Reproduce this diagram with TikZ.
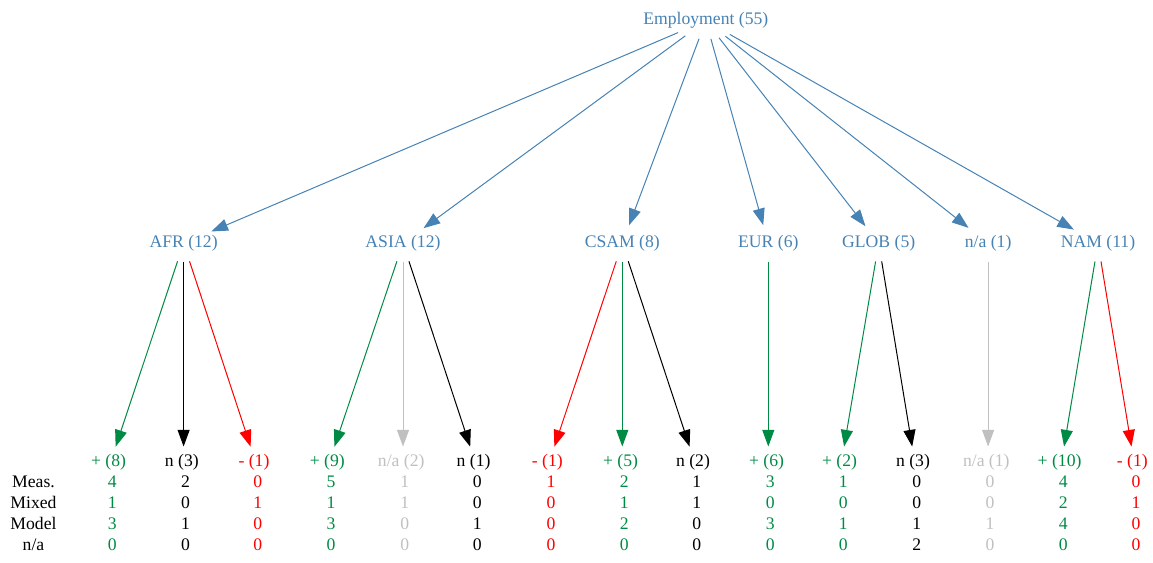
\documentclass[tikz,border=0pt]{standalone}
\usepackage{fontspec}
\setmainfont{Liberation Serif}
\usetikzlibrary{arrows.meta,shapes.geometric}
\definecolor{cblue}{HTML}{4682B4}
\definecolor{cgreen}{HTML}{008B45}
\definecolor{cgray}{HTML}{C0C0C0}
\definecolor{cred}{HTML}{FF0000}
\newcommand\hublabel[1]{\makebox[0pt]{#1}}
\newcommand\leaflabel[1]{\makebox[0pt]{#1\hspace{2.7pt}}}
\newcommand\valcol[7]{%
  \node[cell,text=#3] (#1-1) at (#2,487.6) {#4};
  \node[cell,text=#3] (#1-2) at (#2,508.5) {#5};
  \node[cell,text=#3] (#1-3) at (#2,529.4) {#6};
  \node[cell,text=#3] (#1-4) at (#2,550.3) {#7};}
\begin{document}
\begin{tikzpicture}[x=0.75pt,y=-0.75pt,
  font=\fontsize{13.24}{15}\selectfont,
  hub/.style={ellipse,inner sep=0pt,minimum width=54pt,minimum height=27pt,anchor=base,text=cblue},
  leaf/.style={ellipse,inner sep=0pt,minimum width=54pt,minimum height=23.5pt,anchor=base},
  cell/.style={inner sep=0pt,anchor=base},
  link/.style={line width=0.75pt,-{Triangle[length=12.5pt,width=9pt]}},
]
\useasboundingbox (0,0) rectangle (1153,563);

% root
\node[hub] (emp) at (705.8,25) {\hublabel{Employment (55)}};

% regions
\node[hub] (afr)  at (183.6,247.5) {\hublabel{AFR (12)}};
\node[hub] (asia) at (403,247.5)   {\hublabel{ASIA (12)}};
\node[hub] (csam) at (622.3,247.5) {\hublabel{CSAM (8)}};
\node[hub] (eur)  at (768.3,247.5) {\hublabel{EUR (6)}};
\node[hub] (glob) at (878.7,247.5) {\hublabel{GLOB (5)}};
\node[hub] (rna)  at (988.1,247.5) {\hublabel{n/a (1)}};
\node[hub] (nam)  at (1098,247.5)  {\hublabel{NAM (11)}};

\foreach \t in {afr,asia,csam,eur,glob,rna,nam}
  \draw[link,cblue] (emp) -- (\t);

% leaves
\node[leaf,text=cgreen] (afrp) at (110.4,466.7)  {\leaflabel{+ (8)}};
\node[leaf,text=black]  (afrn) at (183.6,466.7)  {\leaflabel{n (3)}};
\node[leaf,text=cred]   (afrm) at (255.8,466.7)  {\leaflabel{- (1)}};
\node[leaf,text=cgreen] (asiap) at (329.1,466.7) {\leaflabel{+ (9)}};
\node[leaf,text=cgray]  (asiax) at (403,466.7)   {\leaflabel{n/a (2)}};
\node[leaf,text=black]  (asian) at (475.4,466.7) {\leaflabel{n (1)}};
\node[leaf,text=cred]   (csamm) at (549.1,466.7) {\leaflabel{- (1)}};
\node[leaf,text=cgreen] (csamp) at (622.3,466.7) {\leaflabel{+ (5)}};
\node[leaf,text=black]  (csamn) at (694.8,466.7) {\leaflabel{n (2)}};
\node[leaf,text=cgreen] (eurp) at (768.3,466.7)  {\leaflabel{+ (6)}};
\node[leaf,text=cgreen] (globp) at (841.4,466.7) {\leaflabel{+ (2)}};
\node[leaf,text=black]  (globn) at (914.8,466.7) {\leaflabel{n (3)}};
\node[leaf,text=cgray]  (rnax) at (988.1,466.7)  {\leaflabel{n/a (1)}};
\node[leaf,text=cgreen] (namp) at (1061.4,466.7) {\leaflabel{+ (10)}};
\node[leaf,text=cred]   (namm) at (1134.1,466.7) {\leaflabel{- (1)}};

\draw[link,cgreen] (afr) -- (afrp);
\draw[link,black]  (afr) -- (afrn);
\draw[link,cred]   (afr) -- (afrm);
\draw[link,cgreen] (asia) -- (asiap);
\draw[link,cgray]  (asia) -- (asiax);
\draw[link,black]  (asia) -- (asian);
\draw[link,cred]   (csam) -- (csamm);
\draw[link,cgreen] (csam) -- (csamp);
\draw[link,black]  (csam) -- (csamn);
\draw[link,cgreen] (eur) -- (eurp);
\draw[link,cgreen] (glob) -- (globp);
\draw[link,black]  (glob) -- (globn);
\draw[link,cgray]  (rna) -- (rnax);
\draw[link,cgreen] (nam) -- (namp);
\draw[link,cred]   (nam) -- (namm);

% row labels
\node[cell] (lmeas)  at (33.5,487.6) {Meas.};
\node[cell] (lmixed) at (33.5,508.5) {Mixed};
\node[cell] (lmodel) at (33.5,529.4) {Model};
\node[cell] (lna)    at (33.5,550.3) {n/a};

% values
\valcol{vafrp}{112.3}{cgreen}{4}{1}{3}{0}
\valcol{vafrn}{185.5}{black}{2}{0}{1}{0}
\valcol{vafrm}{257.7}{cred}{0}{1}{0}{0}
\valcol{vasiap}{331}{cgreen}{5}{1}{3}{0}
\valcol{vasiax}{404.9}{cgray}{1}{1}{0}{0}
\valcol{vasian}{477.3}{black}{0}{0}{1}{0}
\valcol{vcsamm}{551}{cred}{1}{0}{0}{0}
\valcol{vcsamp}{624.2}{cgreen}{2}{1}{2}{0}
\valcol{vcsamn}{696.7}{black}{1}{1}{0}{0}
\valcol{veurp}{770.2}{cgreen}{3}{0}{3}{0}
\valcol{vglobp}{843.3}{cgreen}{1}{0}{1}{0}
\valcol{vglobn}{916.7}{black}{0}{0}{1}{2}
\valcol{vrnax}{990}{cgray}{0}{0}{1}{0}
\valcol{vnamp}{1063.3}{cgreen}{4}{2}{4}{0}
\valcol{vnamm}{1136}{cred}{0}{1}{0}{0}
\end{tikzpicture}
\end{document}
